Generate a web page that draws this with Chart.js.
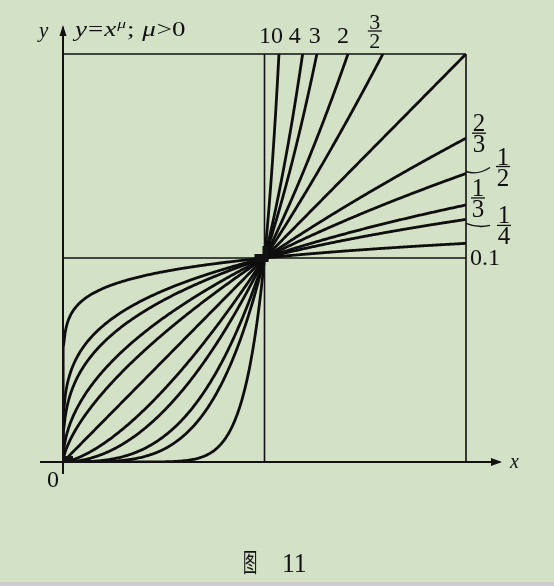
<!DOCTYPE html>
<html lang="zh">
<head>
  <meta charset="UTF-8" />
  <title>y = x^μ, μ &gt; 0</title>
  <script src="https://cdn.jsdelivr.net/npm/chart.js"></script>
  <style>
    html, body { margin: 0; padding: 0; background: #d3e2c6; }
    #wrap { position: relative; width: 554px; height: 586px; }
    #bottomBar { position: absolute; left: 0; bottom: 0; width: 554px; height: 4px; background: #cdcdcd; }
  </style>
</head>
<body>
  <div id="wrap">
    <canvas id="powerChart" width="554" height="586"></canvas>
    <div id="bottomBar"></div>
  </div>

  <script>
    // Exponents of the plotted power functions y = x^mu
    const mus = [0.1, 1 / 4, 1 / 3, 1 / 2, 2 / 3, 1, 3 / 2, 2, 3, 4, 10];

    // Curve labels along the top edge (mu > 1) and right edge (mu < 1)
    const topMus = [10, 4, 3, 2, 3 / 2];
    const topLabels = ["10", "4", "3", "2", "3/2"];
    const rightMus = [2 / 3, 1 / 2, 1 / 3, 1 / 4, 0.1];
    const rightLabels = ["2/3", "1/2", "1/3", "1/4", "0.1"];

    // Axis range of the square window
    const xRange = [0, 2];
    const yRange = [0, 2];

    // x sample positions (extra ones close to 0 for the small exponents)
    const xSamples = [0, 1e-12, 1e-9, 1e-7, 1e-6, 1e-5, 1e-4, 5e-4, 0.001, 0.002, 0.003];
    for (let i = 1; i <= 400; i++) xSamples.push(+(i * 0.005).toFixed(3));

    const datasets = mus.map((mu) => ({
      label: "mu=" + mu.toFixed(3),
      data: xSamples.map((x) => ({ x: x, y: Math.pow(x, mu) })),
      borderColor: "#0e0e0e",
      borderWidth: 2.8,
      pointRadius: 0,
      tension: 0,
      fill: false
    }));

    const SERIF = '"Liberation Serif", "DejaVu Serif", serif';

    function text(ctx, s, x, y, font, align, sx, sy) {
      ctx.save();
      ctx.translate(x, y);
      ctx.scale(sx || 1, sy || 1);
      ctx.font = font;
      ctx.textAlign = align || "left";
      ctx.textBaseline = "alphabetic";
      ctx.fillText(s, 0, 0);
      ctx.restore();
    }

    function segment(ctx, x1, y1, x2, y2) {
      ctx.beginPath();
      ctx.moveTo(x1, y1);
      ctx.lineTo(x2, y2);
      ctx.stroke();
    }

    // Stacked fraction: bar centred at (cx, barY)
    function fraction(ctx, label, cx, barY, size) {
      const parts = label.split("/");
      const font = size + "px " + SERIF;
      text(ctx, parts[0], cx, barY - 2, font, "center");
      text(ctx, parts[1], cx, barY + 2 + size * 0.68, font, "center");
      ctx.lineWidth = 1.3;
      segment(ctx, cx - 7, barY, cx + 7, barY);
    }

    const framePlugin = {
      id: "frame",
      afterDatasetsDraw(chart) {
        const ctx = chart.ctx;
        const px = (v) => chart.scales.x.getPixelForValue(v);
        const py = (v) => chart.scales.y.getPixelForValue(v);
        ctx.save();
        ctx.strokeStyle = "#111";
        ctx.fillStyle = "#111";

        // window frame and the lines x = 1, y = 1
        ctx.lineWidth = 1.6;
        segment(ctx, px(0), py(2), px(2), py(2));
        segment(ctx, px(2), py(2), px(2), py(0));
        segment(ctx, px(1), py(2), px(1), py(0));
        segment(ctx, px(0), py(1), px(2), py(1));

        // heavy ink where the curves meet
        ctx.fillRect(px(1) - 10, py(1) - 4, 14, 8);
        ctx.fillRect(px(1) - 2, py(1) - 12, 6, 14);
        ctx.fillRect(px(0), py(0) - 6, 10, 6);

        // axes with arrows
        ctx.lineWidth = 2;
        const xEnd = px(2) + 34, yEnd = py(2) - 27;
        segment(ctx, px(0) - 23, py(0), xEnd, py(0));
        segment(ctx, px(0), py(0) + 12, px(0), yEnd);
        ctx.beginPath();
        ctx.moveTo(xEnd + 2, py(0));
        ctx.lineTo(xEnd - 9, py(0) - 4);
        ctx.lineTo(xEnd - 9, py(0) + 4);
        ctx.closePath();
        ctx.fill();
        ctx.beginPath();
        ctx.moveTo(px(0), yEnd - 2);
        ctx.lineTo(px(0) - 3.5, yEnd + 9);
        ctx.lineTo(px(0) + 3.5, yEnd + 9);
        ctx.closePath();
        ctx.fill();

        // axis names and origin
        text(ctx, "x", xEnd + 10, py(0) + 6, "italic 20px " + SERIF, "left");
        text(ctx, "y", px(0) - 24, py(2) - 17, "italic 21px " + SERIF, "left");
        text(ctx, "0", px(0) - 10, py(0) + 25, "24px " + SERIF, "center");

        // title  y=x^mu; mu>0
        let tx = px(0) + 12;
        const base = py(2) - 18;
        const pieces = [
          ["y", "italic 20px " + SERIF, 0],
          ["=", "20px " + SERIF, 0],
          ["x", "italic 20px " + SERIF, 0],
          ["μ", "italic 13px " + SERIF, -8],
          [";", "20px " + SERIF, 0],
          [" μ", "italic 20px " + SERIF, 0],
          [">0", "20px " + SERIF, 0]
        ];
        pieces.forEach(([s, f, dy]) => {
          ctx.font = f;
          const w = ctx.measureText(s).width * 1.35;
          text(ctx, s, tx, base + dy, f, "left", 1.35, 1);
          tx += w + 1;
        });

        // labels at the top edge
        const topShift = [-2, -2, 4, 1, -3];
        topMus.forEach((mu, i) => {
          const cx = px(Math.pow(yRange[1], 1 / mu)) - 6 + topShift[i];
          const lab = topLabels[i];
          if (lab.indexOf("/") >= 0) fraction(ctx, lab, cx + 1, py(2) - 23, 22);
          else text(ctx, lab, cx, py(2) - 11, "24px " + SERIF, "center");
        });

        // labels at the right edge
        const rx = px(2);
        const offs = [
          { dx: 13, dy: -5 },
          { dx: 37, dy: -7, leader: true },
          { dx: 12, dy: -7 },
          { dx: 38, dy: 6, leader: true },
          { dx: 4, dy: 13 }
        ];
        rightMus.forEach((mu, i) => {
          const yEndPx = py(Math.pow(xRange[1], mu));
          const o = offs[i];
          const lab = rightLabels[i];
          if (o.leader) {
            ctx.lineWidth = 1.4;
            ctx.beginPath();
            ctx.moveTo(rx, yEndPx + (o.dy < 0 ? -2 : 4));
            ctx.quadraticCurveTo(rx + 12, yEndPx + (o.dy < 0 ? 2 : 9), rx + 24, yEndPx + (o.dy < 0 ? -6 : 6));
            ctx.stroke();
          }
          if (lab.indexOf("/") >= 0) fraction(ctx, lab, rx + o.dx, yEndPx + o.dy, 25);
          else text(ctx, lab, rx + o.dx, yEndPx + o.dy + 9, "24px " + SERIF, "left");
        });

        // caption
        text(ctx, "图", 243, 572, '26px "Noto Sans CJK SC"', "left", 0.55, 1);
        text(ctx, "11", 282, 572, "27px " + SERIF, "left", 0.95, 1);

        ctx.restore();
      }
    };

    const ctx = document.getElementById("powerChart").getContext("2d");
    new Chart(ctx, {
      type: "line",
      data: { datasets: datasets },
      options: {
        responsive: false,
        animation: false,
        layout: { padding: { left: 63, right: 88, top: 54, bottom: 124 } },
        plugins: { legend: { display: false }, tooltip: { enabled: false } },
        scales: {
          x: { type: "linear", min: xRange[0], max: xRange[1], display: false },
          y: { type: "linear", min: yRange[0], max: yRange[1], display: false }
        }
      },
      plugins: [framePlugin]
    });
  </script>
</body>
</html>
